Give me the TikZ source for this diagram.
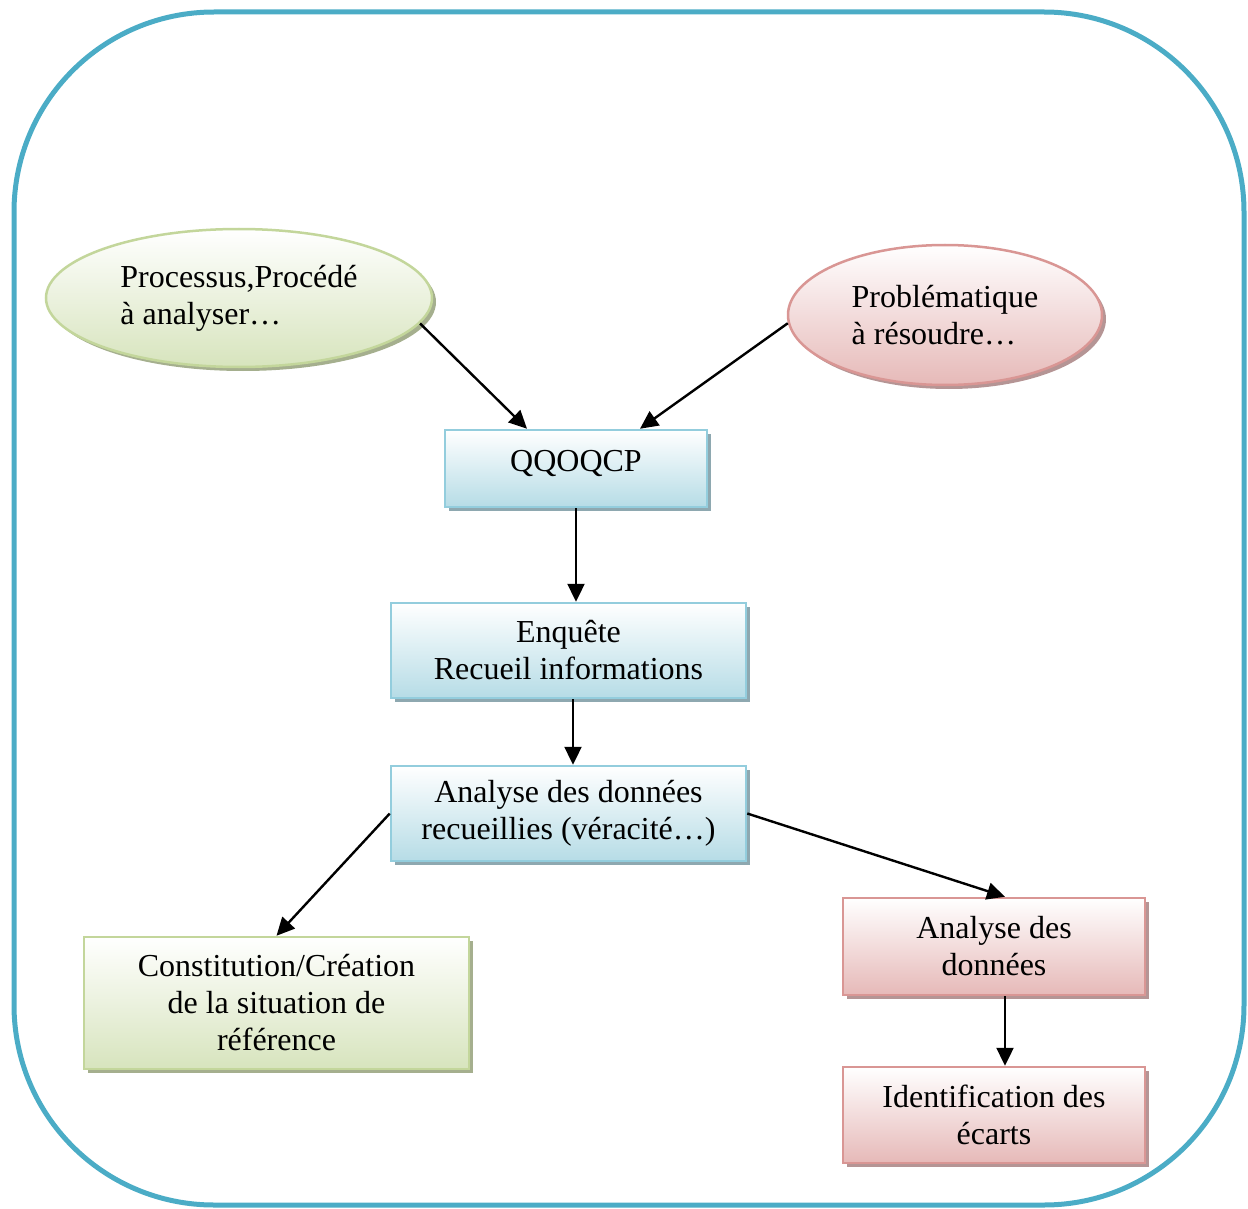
\documentclass[tikz,border=0pt]{standalone}
\usepackage{fontspec}
\setmainfont{Liberation Serif}
\usetikzlibrary{arrows.meta,shapes.geometric,shadows}
\definecolor{frameC}{HTML}{4BACC6}
\definecolor{blueB}{HTML}{93CDDD}
\definecolor{blueF}{HTML}{B6DCE6}
\definecolor{blueS}{HTML}{8EA8B0}
\definecolor{greenB}{HTML}{C3D69B}
\definecolor{greenF}{HTML}{D7E4BD}
\definecolor{greenS}{HTML}{A5AF8E}
\definecolor{pinkB}{HTML}{D99694}
\definecolor{pinkF}{HTML}{E6B9B8}
\definecolor{pinkS}{HTML}{B59595}
\begin{document}
\begin{tikzpicture}[x=1pt,y=-1pt,
  txt/.style={font=\fontsize{32}{37}\selectfont, align=center, inner sep=0pt},
  bluebox/.style={txt, rectangle, draw=blueB, line width=2.5pt, top color=white, bottom color=blueF,
    general shadow={fill=blueS, shadow xshift=4pt, shadow yshift=-4pt}},
  greenbox/.style={txt, rectangle, draw=greenB, line width=2.5pt, top color=white, bottom color=greenF,
    general shadow={fill=greenS, shadow xshift=4pt, shadow yshift=-4pt}},
  pinkbox/.style={txt, rectangle, draw=pinkB, line width=2.5pt, top color=white, bottom color=pinkF,
    general shadow={fill=pinkS, shadow xshift=4pt, shadow yshift=-4pt}},
  greenell/.style={txt, align=left, ellipse, draw=greenB, line width=2.5pt, top color=white, bottom color=greenF,
    general shadow={fill=greenS, shadow xshift=4pt, shadow yshift=-4pt}},
  pinkell/.style={txt, align=left, ellipse, draw=pinkB, line width=2.5pt, top color=white, bottom color=pinkF,
    general shadow={fill=pinkS, shadow xshift=4pt, shadow yshift=-4pt}},
  arr/.style={-{Triangle[length=18pt,width=17pt]}, line width=2.4pt, black}
]
\useasboundingbox (0,0) rectangle (1248,1209);
\draw[frameC, line width=5pt, rounded corners=200pt] (14,12) rectangle (1244,1205);

\node[greenell, minimum width=386pt, minimum height=138pt] (g) at (239,298) {Processus,Procédé\\à analyser…};
\node[pinkell, minimum width=314pt, minimum height=140pt] (p) at (945,315) {Problématique\\à résoudre…};
\node[bluebox, minimum width=262pt, minimum height=77pt, text height=21pt, text depth=15pt] (q) at (576,468.5) {QQOQCP};
\node[bluebox, minimum width=355pt, minimum height=95pt] (e) at (568.5,650.5) {Enquête\\Recueil informations};
\node[bluebox, minimum width=355pt, minimum height=95pt] (a) at (568.5,813.5) {Analyse des données\\recueillies (véracité…)};
\node[greenbox, minimum width=385pt, minimum height=132pt] (c) at (276.5,1003) {Constitution/Création\\de la situation de\\référence};
\node[pinkbox, minimum width=302pt, minimum height=97pt] (r1) at (994,946.5) {Analyse des\\données};
\node[pinkbox, minimum width=302pt, minimum height=96pt] (r2) at (994,1115) {Identification des\\écarts};

\draw[arr] (g.-8) -- ([xshift=-49pt]q.north);
\draw[arr] (p.183) -- ([xshift=64pt]q.north);
\draw[arr] (q.south) -- (q.south |- e.north);
\draw[arr] ([xshift=4.5pt]e.south) -- ([xshift=4.5pt]e.south |- a.north);
\draw[arr] (a.west) -- (c.north);
\draw[arr] (a.east) -- ([xshift=11pt]r1.north);
\draw[arr] ([xshift=11pt]r1.south) -- ([xshift=11pt]r1.south |- r2.north);
\end{tikzpicture}
\end{document}
